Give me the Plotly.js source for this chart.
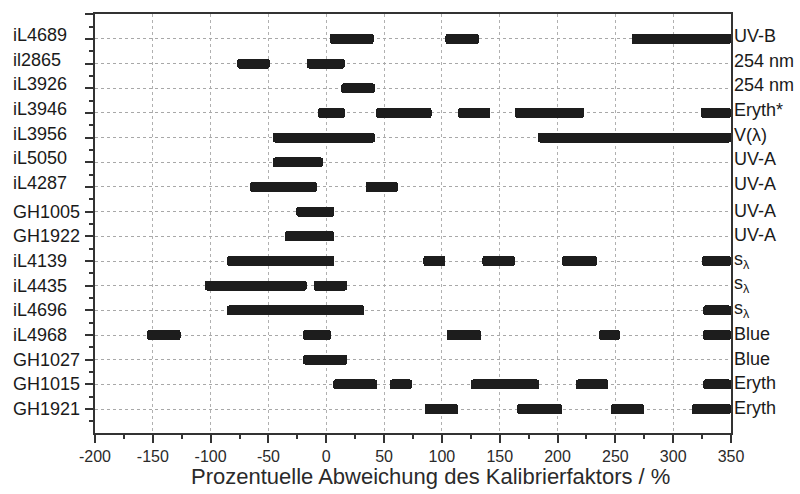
<!DOCTYPE html>
<html>
<head>
<meta charset="utf-8">
<script src="https://cdn.plot.ly/plotly-3.0.1.min.js"></script>
<style>html,body{margin:0;padding:0;background:#fff;}#chart{width:800px;height:494px;}</style>
</head>
<body>
<div id="chart"></div>
<script>
// Instruments (top to bottom) and their detector types
const instruments = ['iL4689','il2865','iL3926','iL3946','iL3956','iL5050','iL4287','GH1005','GH1922','iL4139','iL4435','iL4696','iL4968','GH1027','GH1015','GH1921'];
const detectorTypes = ['UV-B','254 nm','254 nm','Eryth*','V(λ)','UV-A','UV-A','UV-A','UV-A','s<sub>λ</sub>','s<sub>λ</sub>','s<sub>λ</sub>','Blue','Blue','Eryth','Eryth'];

// Deviation ranges (segments), in % : instrument, start, end
const segInstrument = [
  'iL4689','iL4689','iL4689',
  'il2865','il2865',
  'iL3926',
  'iL3946','iL3946','iL3946','iL3946','iL3946',
  'iL3956','iL3956',
  'iL5050',
  'iL4287','iL4287',
  'GH1005',
  'GH1922',
  'iL4139','iL4139','iL4139','iL4139','iL4139',
  'iL4435','iL4435',
  'iL4696','iL4696',
  'iL4968','iL4968','iL4968','iL4968','iL4968',
  'GH1027',
  'GH1015','GH1015','GH1015','GH1015','GH1015',
  'GH1921','GH1921','GH1921','GH1921'
];
const segStart = [
  3,103,264,
  -77,-17,
  13,
  -7,43,114,163,324,
  -46,183,
  -46,
  -66,34,
  -26,
  -36,
  -86,84,135,204,325,
  -105,-11,
  -86,326,
  -155,-20,104,236,326,
  -20,
  6,55,125,216,326,
  85,165,246,316
];
const segEnd = [
  41,132,350,
  -49,16,
  42,
  16,91,142,223,350,
  42,350,
  -3,
  -8,62,
  7,
  7,
  7,103,163,234,350,
  -17,18,
  33,350,
  -126,4,134,254,350,
  18,
  44,74,184,244,350,
  114,204,275,350
];

const xTickVals = [-200,-150,-100,-50,0,50,100,150,200,250,300,350];
const xTickText = ['-200','-150','-100','-50','0','50','100','150','200','250','300','350'];
const xTitle = 'Prozentuelle Abweichung des Kalibrierfaktors / %';

const rowIndex = segInstrument.map(n => instruments.indexOf(n));
const lengths = segEnd.map((e, i) => e - segStart[i]);

const FONT = '"Liberation Sans", Arial, Helvetica, sans-serif';
const TXT = '#1a1a1a';

const trace = {
  type: 'bar',
  orientation: 'h',
  y: rowIndex,
  base: segStart,
  x: lengths,
  width: 0.4,
  marker: {color: '#1d1d1d', line: {width: 0}, cornerradius: 2},
  hoverinfo: 'skip',
  showlegend: false
};

const annotations = [];
instruments.forEach((name, i) => {
  annotations.push({
    text: name, xref: 'paper', yref: 'y', x: -0.132, y: i,
    xanchor: 'left', yanchor: 'middle', showarrow: false,
    yshift: i < 7 ? 4 : 0,
    font: {family: FONT, size: 18, color: TXT}
  });
});
detectorTypes.forEach((t, i) => {
  annotations.push({
    text: t, xref: 'paper', yref: 'y', x: 1, y: i,
    xanchor: 'left', yanchor: 'middle', showarrow: false,
    xshift: 1, yshift: i < 7 ? 3 : 1,
    font: {family: FONT, size: 18, color: TXT}
  });
});
annotations.push({
  text: xTitle, xref: 'paper', yref: 'paper', x: 0.527, y: -0.103,
  xanchor: 'center', yanchor: 'middle', showarrow: false,
  font: {family: FONT, size: 22, color: '#2a2a2a'}
});

const layout = {
  width: 800, height: 494,
  margin: {l: 95, r: 69, t: 14, b: 61, pad: 0},
  paper_bgcolor: '#fff', plot_bgcolor: '#fff',
  font: {family: FONT, color: TXT},
  bargap: 0,
  xaxis: {
    range: [-200, 350],
    tickmode: 'array', tickvals: xTickVals, ticktext: xTickText,
    ticks: 'outside', ticklen: 8, tickwidth: 2, tickcolor: '#333',
    tickfont: {family: FONT, size: 16, color: '#2a2a2a'},
    showline: true, linecolor: '#333', linewidth: 2, mirror: true,
    showgrid: true, gridcolor: '#b0b0b0', gridwidth: 1, griddash: 'dot',
    zeroline: false,
    minor: {tick0: -175, dtick: 50, ticks: 'outside', ticklen: 4, tickwidth: 2, tickcolor: '#333', showgrid: false}
  },
  yaxis: {
    range: [15.97, -1.01],
    tickmode: 'linear', tick0: 0, dtick: 1,
    showticklabels: false,
    ticks: 'outside', ticklen: 8, tickwidth: 2, tickcolor: '#333',
    showline: true, linecolor: '#333', linewidth: 2, mirror: true,
    showgrid: true, gridcolor: '#a8a8a8', gridwidth: 1, griddash: 'dot',
    zeroline: false,
    minor: {tick0: 0.5, dtick: 1, ticks: 'outside', ticklen: 4, tickwidth: 2, tickcolor: '#333', showgrid: false}
  },
  annotations: annotations
};

Plotly.newPlot('chart', [trace], layout, {displayModeBar: false, staticPlot: true});
</script>
</body>
</html>
